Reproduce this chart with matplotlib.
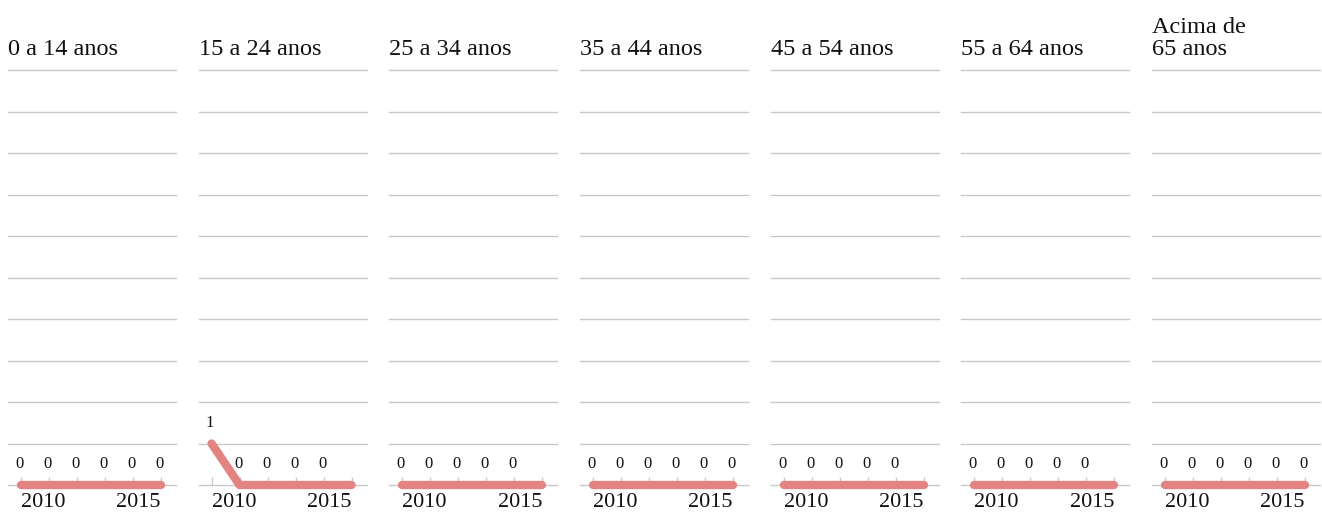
import matplotlib
matplotlib.use("Agg")
import matplotlib.pyplot as plt
import matplotlib.transforms as mtransforms

# Dados: casos por faixa etária, 2010 a 2015
anos = [2010, 2011, 2012, 2013, 2014, 2015]
faixas = ["0 a 14 anos", "15 a 24 anos", "25 a 34 anos", "35 a 44 anos",
          "45 a 54 anos", "55 a 64 anos", "Acima de\n65 anos"]
valores = [
    [0, 0, 0, 0, 0, 0],
    [1, 0, 0, 0, 0, 0],
    [0, 0, 0, 0, 0, 0],
    [0, 0, 0, 0, 0, 0],
    [0, 0, 0, 0, 0, 0],
    [0, 0, 0, 0, 0, 0],
    [0, 0, 0, 0, 0, 0],
]
# quais pontos recebem rótulo no original
rotulos = [
    [1, 1, 1, 1, 1, 1],
    [1, 1, 1, 1, 1, 0],
    [1, 1, 1, 1, 1, 0],
    [1, 1, 1, 1, 1, 1],
    [1, 1, 1, 1, 1, 0],
    [1, 1, 1, 1, 1, 0],
    [1, 1, 1, 1, 1, 1],
]
grade_y = list(range(0, 11))
anos_eixo = [2010, 2015]

cor_linha = "#e48482"
cor_grade = "#c8c8c8"
plt.rcParams["font.family"] = ["Liberation Serif", "DejaVu Serif"]

W, H = 1322, 514
fig = plt.figure(figsize=(W / 100, H / 100), dpi=100)
gs = fig.add_gridspec(1, 7, left=8 / W, right=1320 / W,
                      bottom=29 / H, top=444 / H, wspace=0.135)

for i, faixa in enumerate(faixas):
    ax = fig.add_subplot(gs[0, i])
    ax.set_xlim(2009.54, 2015.54)
    ax.set_ylim(0, 10)
    for s in ax.spines.values():
        s.set_visible(False)
    for g in grade_y:
        ax.axhline(g, color=cor_grade, lw=1, zorder=1, clip_on=False)

    ax.plot(anos, valores[i], color=cor_linha, lw=6, solid_capstyle="round",
            solid_joinstyle="round", zorder=3, clip_on=False)

    for x, v, r in zip(anos, valores[i], rotulos[i]):
        if r:
            ax.annotate(str(v), (x, v), xytext=(-1, 9), textcoords="offset points",
                        ha="center", va="bottom", fontsize=12, color="#111111",
                        zorder=4, annotation_clip=False)

    ax.set_xticks(anos, minor=True)
    ax.set_xticks(anos_eixo)
    ax.set_xticklabels([str(a) for a in anos_eixo], fontsize=16, color="#111111")
    lbls = ax.get_xticklabels()
    lbls[0].set_ha("left")
    lbls[-1].set_ha("right")
    lbls[0].set_transform(lbls[0].get_transform() +
                          mtransforms.ScaledTranslation(-4 / 100, 0, fig.dpi_scale_trans))
    lbls[-1].set_transform(lbls[-1].get_transform() +
                           mtransforms.ScaledTranslation(2 / 100, 0, fig.dpi_scale_trans))
    ax.tick_params(axis="x", which="both", direction="in", length=6, width=1,
                   color=cor_grade, pad=6)
    ax.set_yticks([])

    ax.annotate(faixa, (0, 1), xycoords="axes fraction", xytext=(0, 7),
                textcoords="offset points", ha="left", va="bottom",
                fontsize=17.5, color="#111111", linespacing=1.1)

fig.savefig("out.png", dpi=100)
